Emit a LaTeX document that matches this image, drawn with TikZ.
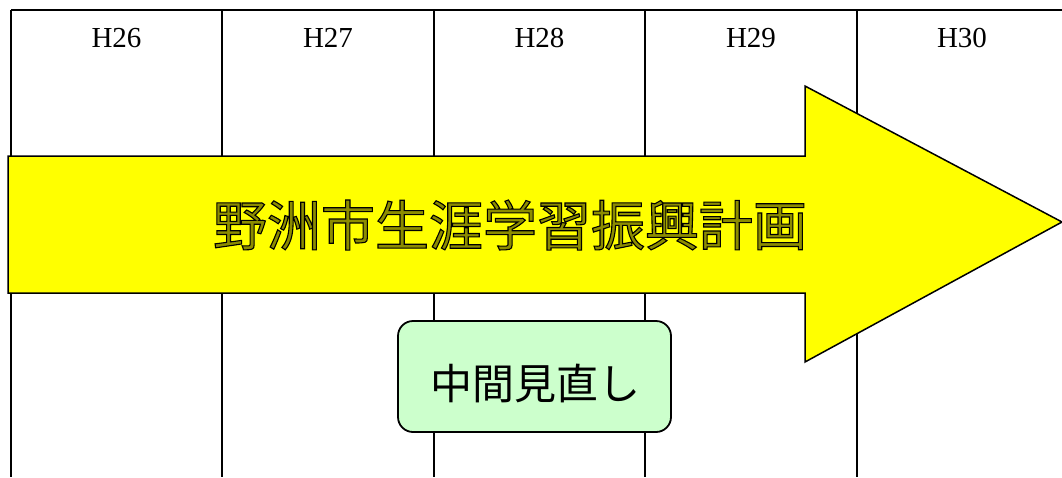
\documentclass[tikz,border=0pt]{standalone}
\usepackage{fontspec}
\setmainfont{Liberation Serif}
\newfontfamily\jpfont{Noto Sans CJK JP}
\definecolor{arrowyellow}{HTML}{FFFF00}
\definecolor{boxgreen}{HTML}{CCFFCC}
\newcommand{\outlinetext}[1]{\special{pdf:literal direct 2 Tr 1.1 w 0 0 0 RG 0.55 0.55 0 rg}#1\special{pdf:literal direct 0 Tr}}
\tikzset{
  gridline/.style={line width=2pt, black},
  yearlabel/.style={font=\fontsize{29}{29}\selectfont, inner sep=0pt},
  bigarrow/.style={fill=arrowyellow, draw=black, line width=1.5pt, line join=miter},
  reviewbox/.style={fill=boxgreen, draw=black, line width=1.8pt, rounded corners=15pt,
    minimum width=273pt, minimum height=111pt, inner sep=0pt},
  titletext/.style={font=\jpfont\fontsize{54}{54}\selectfont, inner sep=0pt},
  boxtext/.style={font=\jpfont\fontsize{42}{42}\selectfont, inner sep=0pt}
}
\begin{document}
\begin{tikzpicture}[x=1pt, y=-1pt]
\useasboundingbox (0,0) rectangle (1062,477);
\clip (0,0) rectangle (1062,477);
% table
\draw[gridline] (11,10) -- (1062,10);
\foreach \xx in {11,222,434,645,857} {
  \draw[gridline] (\xx,10) -- (\xx,477);
}
\node[yearlabel] (h26) at (116.5,38) {H26};
\node[yearlabel] (h27) at (328,38) {H27};
\node[yearlabel] (h28) at (539.5,38) {H28};
\node[yearlabel] (h29) at (751,38) {H29};
\node[yearlabel] (h30) at (962,38) {H30};
% arrow
\draw[bigarrow] (8,156) -- (805,156) -- (805,86) -- (1062,222) -- (805,362) -- (805,293) -- (8,293) -- cycle;
\node[titletext] (title) at (510,225) {\outlinetext{野洲市生涯学習振興計画}};
% review box
\node[reviewbox] (review) at (534.5,376.5) {};
\node[boxtext] (reviewtext) at (535,383) {中間見直し};
\end{tikzpicture}
\end{document}
